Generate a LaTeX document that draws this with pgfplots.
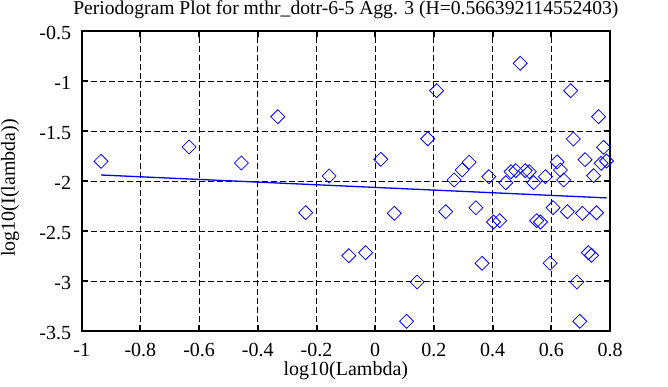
\documentclass[border=0pt]{standalone}
\usepackage{pgfplots}
\pgfplotsset{compat=1.18}
\usepackage{fontspec}
\setmainfont{Liberation Serif}
\begin{document}
\fontsize{20pt}{23pt}\selectfont
\begin{tikzpicture}[x=1pt,y=1pt]
\path[use as bounding box] (0,0) rectangle (668,387);
\begin{axis}[
  at={(81.7pt,56pt)}, anchor=south west,
  scale only axis, width=528.3pt, height=300pt,
  xmin=-1, xmax=0.8, ymin=-3.5, ymax=-0.5,
  xtick={-1,-0.8,...,0.81}, ytick={-3.5,-3,...,-0.4},
  xticklabels={-1,-0.8,-0.6,-0.4,-0.2,0,0.2,0.4,0.6,0.8},
  yticklabels={-3.5,-3,-2.5,-2,-1.5,-1,-0.5},
  tick align=inside, major tick length=6pt,
  tick style={black, line width=2pt},
  axis line style={black, line width=2pt},
  grid=major,
  major grid style={black, line width=0.9pt, dash pattern=on 6pt off 3pt},
  xticklabel style={inner sep=0pt, anchor=north, yshift=-12pt, font=\fontsize{20pt}{23pt}\selectfont},
  yticklabel style={inner sep=0pt, anchor=east, xshift=-10.5pt, yshift=-2pt, font=\fontsize{20pt}{23pt}\selectfont},
  title={Periodogram Plot for mthr\_dotr-6-5 Agg. 3 (H=0.566392114552403)},
  title style={at={(axis description cs:0.5,1)}, anchor=base, yshift=10.3pt, inner sep=0pt, font=\fontsize{19.6pt}{23pt}\selectfont},
  xlabel={log10(Lambda)},
  xlabel style={at={(axis description cs:0.5,0)}, anchor=base, yshift=-45pt, inner sep=0pt, font=\fontsize{20pt}{23pt}\selectfont},
  ylabel={log10(I(lambda))},
  ylabel style={at={(axis description cs:-0.1357,0.477)}, anchor=center, inner sep=0pt, font=\fontsize{20pt}{23pt}\selectfont},
  clip=false,
]
\addplot[only marks, mark=square, mark size=4.95pt, mark options={rotate=45, blue, line width=0.8pt}, color=blue] coordinates {
(-0.934,-1.803) (-0.634,-1.66) (-0.456,-1.82) (-0.332,-1.357) (-0.237,-2.317)
(-0.157,-1.95) (-0.090,-2.747) (-0.033,-2.717) (0.019,-1.783) (0.065,-2.323)
(0.107,-3.403) (0.143,-3.01) (0.179,-1.577) (0.209,-1.097) (0.240,-2.307)
(0.269,-1.99) (0.296,-1.89) (0.320,-1.813) (0.343,-2.267) (0.364,-2.823)
(0.387,-1.957) (0.403,-2.41) (0.424,-2.397) (0.445,-2.017) (0.463,-1.907)
(0.479,-1.897) (0.494,-0.823) (0.511,-1.897) (0.525,-1.907) (0.540,-2.017)
(0.550,-2.397) (0.563,-2.41) (0.580,-1.957) (0.596,-2.823) (0.606,-2.267)
(0.620,-1.81) (0.631,-1.89) (0.642,-1.99) (0.655,-2.307) (0.666,-1.097)
(0.675,-1.58) (0.687,-3.01) (0.697,-3.403) (0.706,-2.323) (0.715,-1.787)
(0.726,-2.717) (0.737,-2.743) (0.744,-1.947) (0.754,-2.317) (0.761,-1.357)
(0.770,-1.823) (0.778,-1.663) (0.788,-1.80)
};
\addplot[blue, line width=1.3pt, no marks] coordinates {(-0.934,-1.94) (0.788,-2.169)};
\end{axis}
\end{tikzpicture}
\end{document}
